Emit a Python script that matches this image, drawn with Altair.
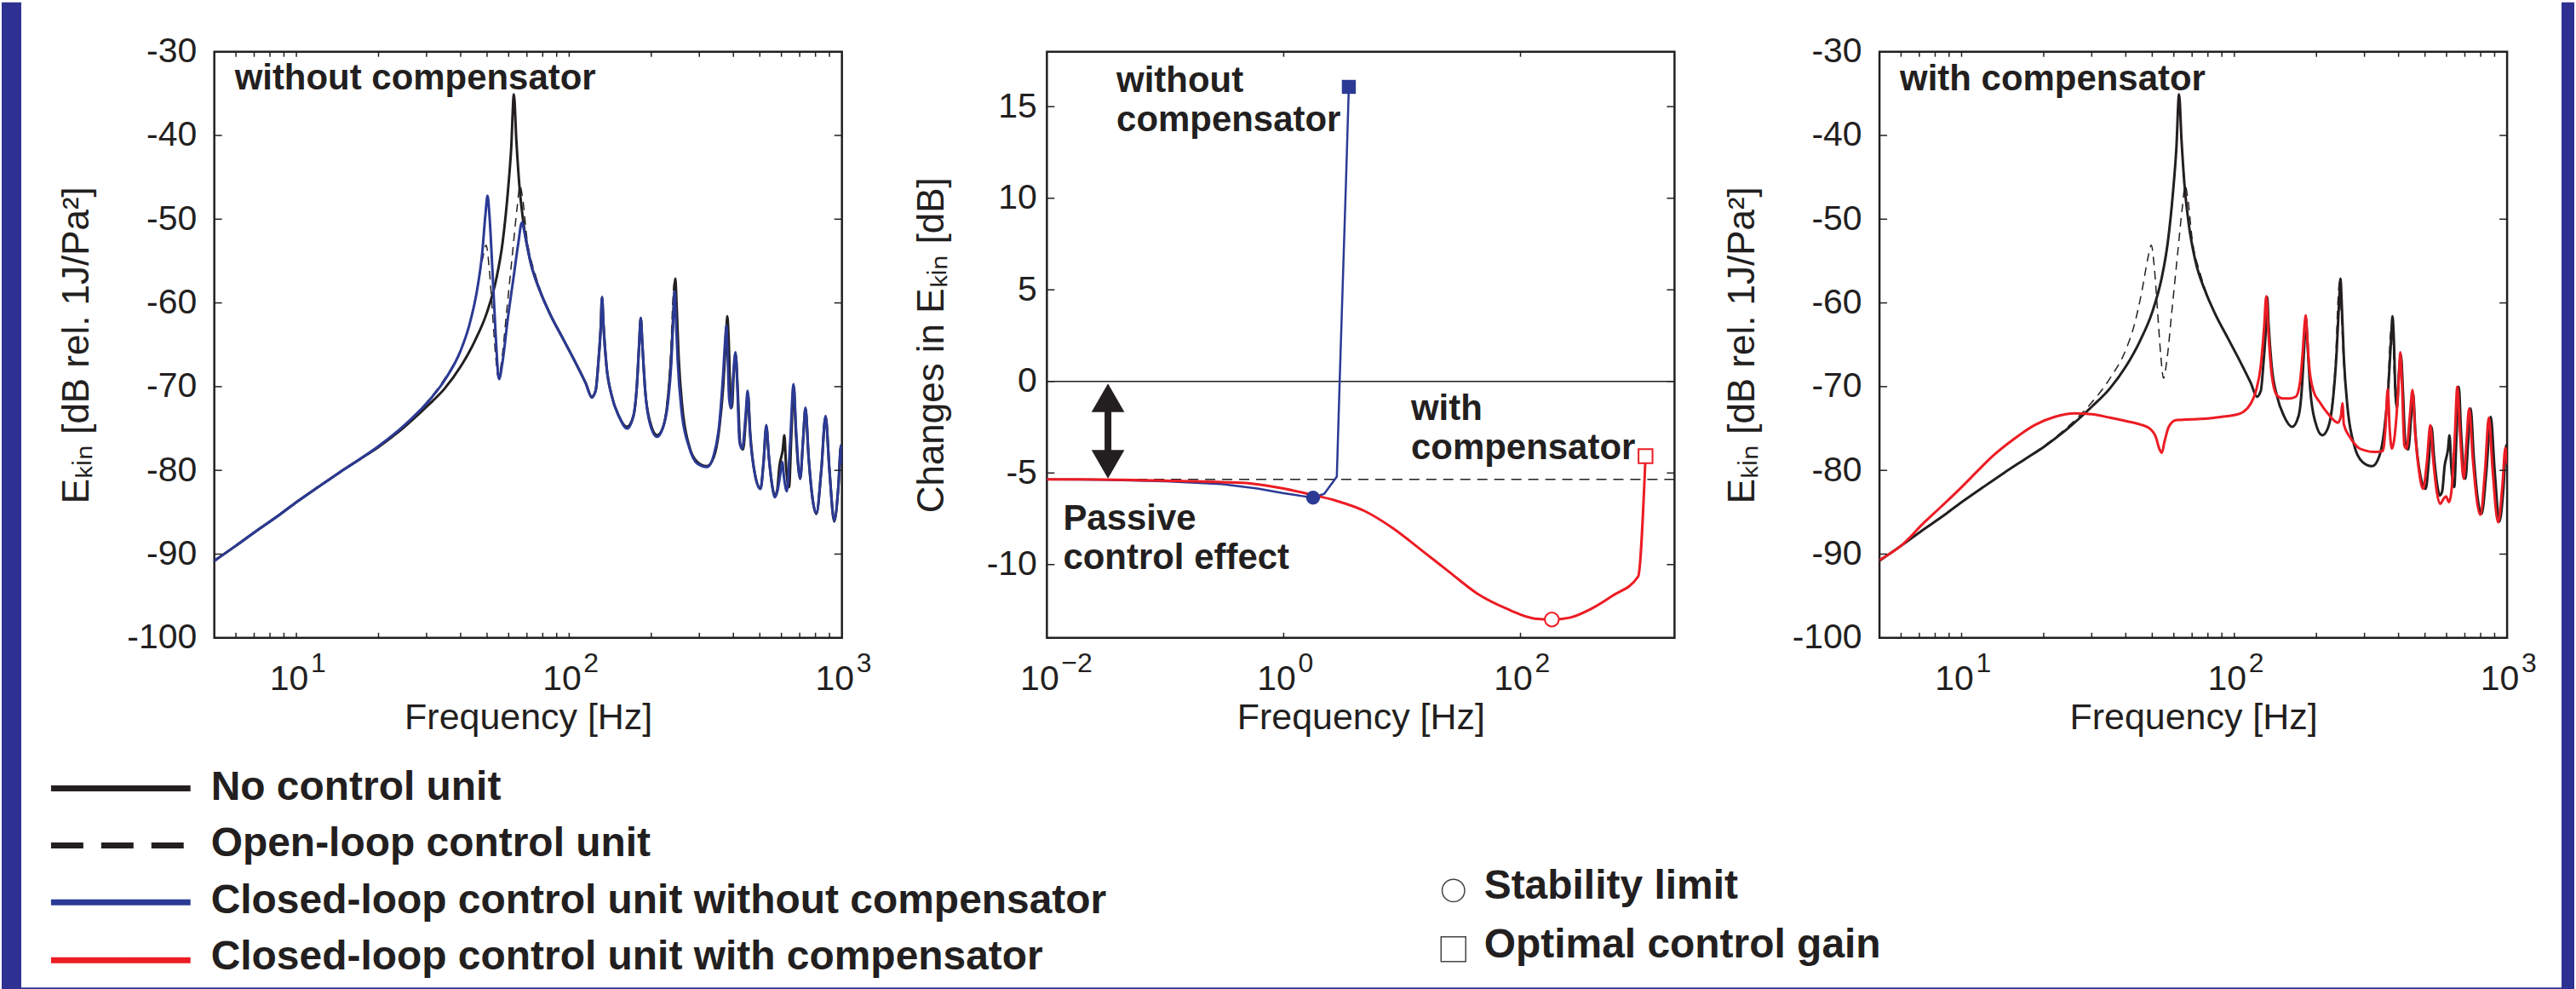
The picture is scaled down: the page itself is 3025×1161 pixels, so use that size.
import math
import altair as alt
import pandas as pd

FONT = "Liberation Sans"
INK = "#231f20"
BLUE = "#2b3a94"
RED = "#ec1c24"
FRAME = "#2e3192"

# ---------------- data ----------------
SERIES = ["No control unit", "Open-loop control unit",
          "Closed-loop control unit without compensator",
          "Closed-loop control unit with compensator"]
SERIES_COLORS = [INK, INK, BLUE, RED]
MARKERS = ["Stability limit", "Optimal control gain"]
MARKER_SHAPES = ["circle", "square"]

# frequency [Hz], E_kin [dB]
no_control = [(5, -90.8), (6, -89.0), (7.15, -87.2), (8.5, -85.5), (10, -83.8), (12, -82.0), (14.3, -80.3),
              (17, -78.7), (20, -77.2), (24.7, -74.9), (30, -72.4), (35, -70.2), (40, -67.6), (45, -64.6),
              (50, -61.1), (54, -57.2), (57, -52.8), (59.5, -47.0), (61.3, -41.5), (62.7, -35.1), (64, -40.5),
              (65.5, -45.5), (68, -50.5), (72, -55.0), (78, -58.5), (85, -61.3), (95, -64.3), (105, -67.0),
              (115, -69.6), (121, -71.2), (125, -70.5), (128, -67.0), (130.5, -63.0), (132, -59.3), (133.5, -62.5),
              (137, -67.5), (143, -71.0), (152, -73.5), (163, -74.8), (172, -73.5), (177, -70.0), (180.5, -65.0),
              (183, -61.8), (185.5, -65.0), (190, -70.5), (198, -74.2), (210, -75.8), (220, -75.0), (230, -71.5),
              (237, -66.0), (242, -60.0), (245, -57.1), (247.5, -60.0), (252, -66.5), (260, -72.5), (275, -77.0),
              (295, -79.0), (320, -79.5), (340, -78.3), (355, -75.0), (367, -70.0), (376, -64.0), (380, -61.6),
              (384, -64.0), (390, -71.0), (395, -72.5), (401, -68.5), (408, -66.2), (415, -70.5), (424, -77.0),
              (434, -77.5), (445, -73.5), (452, -70.8), (461, -75.5), (480, -80.5), (503, -82.2), (516, -79.0),
              (528, -74.8), (540, -78.5), (556, -82.0), (566, -83.0), (578, -82.5), (590, -79.5), (607, -77.5),
              (615, -75.8), (624, -79.5), (640, -82.0), (652, -76.0), (665, -70.0), (678, -75.5), (703, -81.0),
              (720, -76.5), (735, -72.6), (755, -78.5), (806, -85.2), (840, -80.0), (871, -73.6), (900, -80.0),
              (937, -86.1), (970, -82.0), (992, -77.0), (1000, -79.3)]

open_loop = [(5, -90.8), (6, -89.0), (7.15, -87.2), (8.5, -85.5), (10, -83.8), (12, -82.0), (14.3, -80.3),
             (17, -78.7), (20, -77.1), (24.7, -74.7), (30, -71.9), (35, -69.0), (40, -65.6), (43, -62.6),
             (46, -58.3), (48.3, -54.5), (49.6, -53.1), (50.8, -55.5), (52.3, -61.0), (53.8, -66.5), (55, -69.0),
             (56.5, -67.0), (59, -61.0), (62, -54.0), (64.5, -48.5), (66, -46.0), (67.5, -47.5), (70, -52.3),
             (75, -56.5), (80, -59.3), (88, -62.3), (95, -64.3), (105, -67.0), (115, -69.6), (121, -71.2),
             (125, -70.5), (128, -67.0), (130.5, -63.0), (132, -59.3), (133.5, -62.5), (137, -67.5), (143, -71.0),
             (152, -73.5), (163, -74.8), (172, -73.5), (177, -70.0), (180.5, -65.0), (183, -61.8), (185.5, -65.0),
             (190, -70.5), (198, -74.2), (210, -75.8), (220, -75.0), (229, -71.5), (236, -65.5), (240, -59.5),
             (243, -57.5), (246, -60.5), (251, -66.5), (260, -72.5), (275, -77.0), (295, -79.0), (320, -79.5),
             (340, -78.3), (355, -75.0), (366, -69.5), (374, -63.5), (378, -62.5), (382, -64.5), (388, -71.0),
             (395, -72.5), (401, -68.5), (408, -66.2), (415, -70.5), (424, -77.0), (434, -77.5), (445, -73.5),
             (452, -70.8), (461, -75.5), (480, -80.5), (503, -82.2), (516, -79.0), (528, -74.8), (540, -78.5),
             (556, -82.0), (566, -83.0), (578, -82.5), (590, -79.5), (607, -77.5), (615, -75.8), (624, -79.5),
             (640, -82.0), (652, -76.0), (665, -70.0), (678, -75.5), (703, -81.0), (720, -76.5), (735, -72.6),
             (755, -78.5), (806, -85.2), (840, -80.0), (871, -73.6), (900, -80.0), (937, -86.1), (970, -82.0),
             (992, -77.0), (1000, -79.3)]

closed_no_comp = [(5, -90.8), (6, -89.0), (7.15, -87.2), (8.5, -85.5), (10, -83.8), (12, -82.0), (14.3, -80.3),
                  (17, -78.7), (20, -77.1), (24.7, -74.7), (30, -72.0), (35, -69.2), (40, -65.7), (43, -62.7),
                  (46, -58.4), (48, -54.0), (49.3, -49.5), (50.2, -47.2), (51, -49.5), (52.3, -56.0), (53.8, -64.0),
                  (55.3, -69.1), (57, -67.0), (59.5, -62.0), (62.5, -57.0), (65, -53.0), (67.1, -50.4), (69, -52.0),
                  (72, -55.0), (78, -58.5), (85, -61.3), (95, -64.3), (105, -67.0), (115, -69.6), (121, -71.3),
                  (125, -70.5), (128, -67.0), (130.5, -63.0), (132, -59.3), (133.5, -62.5), (137, -67.5),
                  (143, -71.0), (152, -73.5), (163, -75.0), (172, -73.5), (177, -70.0), (180.5, -65.0), (183, -61.8),
                  (185.5, -65.0), (190, -70.5), (198, -74.5), (210, -76.0), (220, -75.0), (230, -72.0), (237, -67.0),
                  (241, -61.5), (243.5, -58.6), (246, -61.5), (250, -67.0), (258, -72.8), (275, -77.2), (295, -79.2),
                  (320, -79.6), (340, -78.0), (355, -74.5), (366, -69.0), (374, -64.0), (377, -62.7), (380, -65.0),
                  (386, -71.5), (392, -72.6), (398, -69.5), (407, -65.9), (413, -69.5), (421, -76.5), (431, -77.4),
                  (444, -73.2), (451, -70.5), (460, -75.5), (480, -80.5), (503, -82.2), (516, -79.0), (528, -74.6),
                  (540, -78.5), (556, -82.0), (568, -83.2), (580, -82.5), (594, -80.5), (604, -79.0), (614, -81.0),
                  (628, -82.5), (645, -77.0), (665, -69.7), (680, -75.5), (703, -81.0), (720, -76.5), (735, -72.5),
                  (755, -78.5), (806, -85.1), (840, -80.0), (871, -73.5), (900, -80.0), (937, -86.0), (970, -82.0),
                  (993, -77.0), (1000, -79.3)]

closed_comp = [(5, -90.7), (6, -89.0), (7.3, -86.2), (8.5, -84.2), (10, -82.0), (11.5, -80.0), (13, -78.3),
               (15.5, -76.3), (18.5, -74.6), (22, -73.6), (26, -73.2), (30, -73.3), (35, -73.7), (40, -74.1),
               (45, -74.5), (49, -75.0), (51.5, -76.0), (53.2, -77.5), (54.2, -77.9), (55.5, -76.5), (57.5, -74.8),
               (61, -74.0), (70, -73.9), (80, -73.8), (90, -73.6), (100, -73.4), (108, -73.0), (115, -72.0),
               (120, -70.5), (125, -67.5), (128.5, -63.0), (131, -59.2), (133, -63.0), (137, -68.5), (143, -71.0),
               (150, -71.4), (160, -71.4), (168, -71.2), (174, -69.5), (178, -66.0), (181, -62.5), (182.5, -61.5),
               (184.5, -63.5), (188, -67.5), (195, -70.5), (205, -71.8), (220, -73.2), (240, -74.3), (246, -73.5),
               (249, -72.0), (252, -74.5), (265, -76.0), (285, -77.3), (300, -77.6), (325, -77.8), (350, -77.7),
               (358, -75.0), (365, -70.3), (371, -75.0), (378, -77.4), (392, -74.0), (400, -69.5), (406, -65.9),
               (412, -70.0), (420, -77.0), (428, -77.4), (440, -73.5), (450, -70.4), (460, -75.5), (475, -80.0),
               (492, -82.2), (508, -79.0), (523, -74.6), (535, -78.5), (552, -82.5), (569, -84.0), (582, -83.5),
               (597, -83.1), (612, -83.8), (625, -82.5), (643, -76.0), (657, -70.0), (672, -75.5), (693, -81.0),
               (710, -76.5), (726, -72.6), (748, -78.5), (798, -85.3), (830, -80.0), (857, -73.7), (885, -80.0),
               (927, -86.2), (960, -82.0), (986, -77.3), (1000, -79.3)]

# middle panel: frequency [Hz], change in E_kin [dB]
change_no_comp = [(0.01, -5.35), (0.03, -5.37), (0.1, -5.45), (0.3, -5.6), (0.6, -5.85), (1.0, -6.1),
                  (1.4, -6.25), (1.77, -6.35), (2.2, -6.14), (2.81, -5.2), (2.97, 0.0), (3.36, 10.95),
                  (3.55, 16.08)]
change_comp = [(0.01, -5.35), (0.03, -5.36), (0.1, -5.42), (0.3, -5.5), (0.52, -5.57), (1.0, -5.85),
               (1.58, -6.13), (2.73, -6.5), (4.8, -7.07), (8.3, -8.0), (14.5, -9.2), (25, -10.4), (43.6, -11.6),
               (76, -12.4), (132, -12.95), (184, -13.0), (260, -12.9), (400, -12.4), (600, -11.7), (986, -10.65),
               (1138, -4.08)]
passive_effect_db = -5.35
markers_no_comp = [(1.77, -6.35, "circle"), (3.55, 16.08, "square")]
markers_comp = [(184, -13.0, "circle"), (1138, -4.08, "square")]
passive_arrow = (0.0328, -0.9, -4.52)

freq_label_values = [10, 100, 1000]
freq_tick_values = [6, 7, 8, 9, 10, 20, 30, 40, 50, 60, 70, 80, 90, 100, 200, 300, 400, 500, 600, 700, 800, 900]
ekin_label_values = [-100, -90, -80, -70, -60, -50, -40, -30]
ekin_tick_values = [-90, -80, -70, -60, -50, -40]
gain_label_values = [0.01, 1, 100]
gain_tick_values = [1, 100]
change_label_values = [-10, -5, 0, 5, 10, 15]

# ---------------- chart ----------------
W, H = 738, 689
ONE = pd.DataFrame({"k": [0]})
COLOR_SCALE = alt.Scale(domain=SERIES, range=SERIES_COLORS)

AXIS_STYLE = dict(labelFont=FONT, titleFont=FONT, labelFontSize=41,
                  labelColor=INK, titleColor=INK, titleFontWeight="normal",
                  ticks=False, domain=False, grid=False, labelFlush=False, labelOverlap=False)


def x_axis(values):
    return alt.Axis(orient="bottom", values=values, labelExpr="'10'", labelOffset=-9,
                    labelPadding=61, labelBaseline="alphabetic", titleFontSize=43,
                    title="Frequency [Hz]", titleY=107, titleBaseline="alphabetic", **AXIS_STYLE)


def y_axis(values, title, pad, tx):
    return alt.Axis(orient="left", values=values, labelExpr="datum.value + ''", labelPadding=pad,
                    title=title, titleX=tx, titleY=H / 2, titleAngle=270, titleAlign="center",
                    titleFontSize=44, titleBaseline="alphabetic", **AXIS_STYLE)


LR = dict(xs=alt.Scale(type="log", domain=[5, 1000], nice=False),
          ys=alt.Scale(domain=[-100, -30], nice=False, zero=False),
          xa=x_axis(freq_label_values),
          ya=y_axis(ekin_label_values, "E\u2096\u1d62\u2099 [dB rel. 1J/Pa\u00b2]", 21, -148))
MID = dict(xs=alt.Scale(type="log", domain=[0.01, 2000], nice=False),
           ys=alt.Scale(domain=[-14, 18], nice=False, zero=False),
           xa=x_axis(gain_label_values),
           ya=y_axis(change_label_values, "Changes in E\u2096\u1d62\u2099 [dB]", 12, -122))


def X(P, field="f"):
    return alt.X(f"{field}:Q", scale=P["xs"], axis=P["xa"])


def Y(P, field="v"):
    return alt.Y(f"{field}:Q", scale=P["ys"], axis=P["ya"])


def curve(P, pairs, name, width, dash=None, interp="monotone"):
    df = pd.DataFrame(pairs, columns=["f", "v"]).assign(series=name)
    kw = dict(strokeWidth=width, clip=True, interpolate=interp)
    if dash:
        kw["strokeDash"] = dash
    return alt.Chart(df).mark_line(**kw).encode(
        x=X(P), y=Y(P), color=alt.Color("series:N", scale=COLOR_SCALE, legend=None))


def exponents(P, values):
    df = pd.DataFrame({"f": values,
                       "e": [str(int(round(math.log10(v)))).replace("-", "\u2212") for v in values]})
    return alt.Chart(df).mark_text(font=FONT, fontSize=32, color=INK, align="left",
                                   baseline="alphabetic", dx=17).encode(
        x=X(P), y=alt.value(H + 40), text="e:N")


def inner_ticks(P, xvals, yvals, xlen=6, ylen=9):
    bx = alt.Chart(pd.DataFrame({"f": xvals})).mark_rule(color=INK, strokeWidth=1.5)
    by = alt.Chart(pd.DataFrame({"v": yvals})).mark_rule(color=INK, strokeWidth=1.5)
    return [
        bx.encode(x=X(P), y=alt.value(H), y2=alt.value(H - xlen)),
        bx.encode(x=X(P), y=alt.value(0), y2=alt.value(xlen)),
        by.encode(y=Y(P), x=alt.value(0), x2=alt.value(ylen)),
        by.encode(y=Y(P), x=alt.value(W), x2=alt.value(W - ylen)),
    ]


def note(P, text, fx, vy):
    return alt.Chart(pd.DataFrame({"f": [fx], "v": [vy]})).mark_text(
        text=text, font=FONT, fontSize=42, fontWeight="bold", align="left",
        baseline="alphabetic", color=INK, lineBreak="\n", lineHeight=46,
    ).encode(x=X(P), y=Y(P))


def frame_bar(x0, x1, y0, y1):
    return alt.Chart(ONE).mark_rect(color=FRAME).encode(
        x=alt.value(x0), x2=alt.value(x1), y=alt.value(y0), y2=alt.value(y1))


def marker_layer(P, points, **style):
    df = pd.DataFrame(points, columns=["f", "v", "shape"])
    return alt.Chart(df).mark_point(size=270, opacity=1, **style).encode(
        x=X(P), y=Y(P), shape=alt.Shape("shape:N", scale=None))


def marker_key(shape, label, size, cx, cy, base):
    sym = alt.Chart(ONE).mark_point(shape=shape, filled=False, color="#444", strokeWidth=1.5,
                                    size=size, opacity=1).encode(x=alt.value(cx), y=alt.value(cy))
    txt = alt.Chart(ONE).mark_text(text=label, font=FONT, fontSize=48, fontWeight="bold", align="left",
                                   baseline="alphabetic", color=INK).encode(x=alt.value(cx + 36), y=alt.value(base))
    return [sym, txt]


def line_key(i, cy, base):
    dash = [38, 21] if i == 1 else [1, 0]
    x_end = -34 if i == 1 else -28
    seg = alt.Chart(ONE).mark_rule(color=SERIES_COLORS[i], strokeWidth=7, strokeDash=dash).encode(
        x=alt.value(-192), x2=alt.value(x_end), y=alt.value(cy))
    txt = alt.Chart(ONE).mark_text(text=SERIES[i], font=FONT, fontSize=48, fontWeight="bold", align="left",
                                   baseline="alphabetic", color=INK).encode(x=alt.value(-4), y=alt.value(base))
    return [seg, txt]


legend_rows = [(866, 879), (933, 946), (1000, 1013), (1068, 1079)]
key_layers = [layer for i, (cy, base) in enumerate(legend_rows) for layer in line_key(i, cy, base)]

left = alt.layer(
    curve(LR, no_control, SERIES[0], 3),
    curve(LR, open_loop, SERIES[1], 1.5, dash=[10, 7]),
    curve(LR, closed_no_comp, SERIES[2], 3),
    *inner_ticks(LR, freq_tick_values, ekin_tick_values),
    exponents(LR, freq_label_values),
    note(LR, "without compensator", 5.94, -34.5),
    *key_layers,
    frame_bar(-250, -227, -58, 1103),
    frame_bar(2760, 2775, -58, 1103),
    frame_bar(-227, 2760, 1100, 1103),
).properties(width=W, height=H)

ax, ay0, ay1 = passive_arrow
arrow_df = pd.DataFrame({"f": [ax], "v": [ay0], "v2": [ay1]})
mid = alt.layer(
    alt.Chart(pd.DataFrame({"v": [0.0]})).mark_rule(color=INK, strokeWidth=1.5).encode(y=Y(MID)),
    alt.Chart(pd.DataFrame({"v": [passive_effect_db]})).mark_rule(
        color=INK, strokeWidth=1.5, strokeDash=[12, 8]).encode(y=Y(MID)),
    curve(MID, change_no_comp, SERIES[2], 2.5, interp="linear"),
    curve(MID, change_comp, SERIES[3], 3),
    alt.Chart(arrow_df).mark_rule(color=INK, strokeWidth=8).encode(x=X(MID), y=Y(MID), y2="v2:Q"),
    alt.Chart(arrow_df).mark_point(shape="triangle-up", filled=True, color=INK, size=1500, opacity=1).encode(
        x=X(MID), y=Y(MID)),
    alt.Chart(arrow_df).mark_point(shape="triangle-down", filled=True, color=INK, size=1500, opacity=1).encode(
        x=X(MID), y=Y(MID, "v2")),
    marker_layer(MID, markers_no_comp, filled=True, color=BLUE),
    marker_layer(MID, markers_comp, filled=True, fill="white", stroke=RED, strokeWidth=2),
    *inner_ticks(MID, gain_tick_values, change_label_values),
    exponents(MID, gain_label_values),
    note(MID, "without\ncompensator", 0.0387, 15.8),
    note(MID, "with\ncompensator", 11.9, -2.1),
    note(MID, "Passive\ncontrol effect", 0.0137, -8.1),
    *marker_key(MARKER_SHAPES[0], MARKERS[0], 700, 478, 986, 996),
    *marker_key(MARKER_SHAPES[1], MARKERS[1], 841, 478, 1055, 1065),
).properties(width=W, height=H)

right = alt.layer(
    curve(LR, open_loop, SERIES[1], 1.5, dash=[10, 7]),
    curve(LR, no_control, SERIES[0], 3),
    curve(LR, closed_comp, SERIES[3], 3),
    *inner_ticks(LR, freq_tick_values, ekin_tick_values),
    exponents(LR, freq_label_values),
    note(LR, "with compensator", 5.94, -34.6),
).properties(width=W, height=H)

chart = alt.hconcat(left, mid, right, spacing=241, bounds="flush").properties(
    padding=0, background="white"
).configure_view(
    stroke=INK, strokeWidth=2.5
)

chart.save("out.html", embed_options={"renderer": "svg", "actions": False})
